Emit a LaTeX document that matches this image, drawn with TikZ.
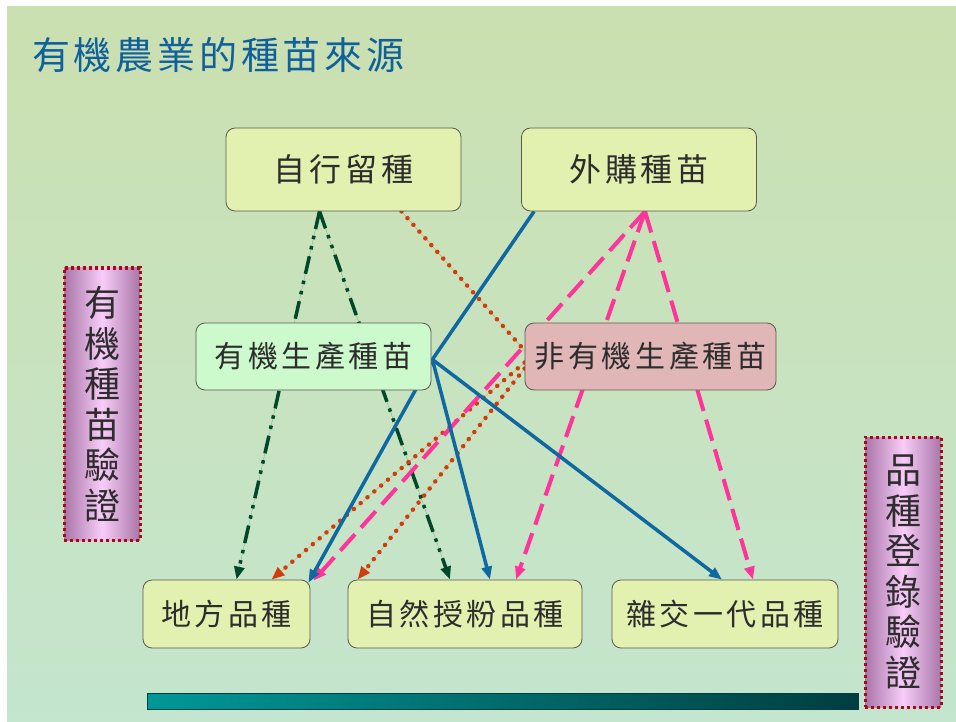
\documentclass[tikz,border=0pt]{standalone}
\usepackage{fontspec}
\newfontfamily\cjk[LetterSpace=12]{Noto Sans CJK TC}
\newfontfamily\cjkttl[LetterSpace=10]{Noto Sans CJK TC}
\newfontfamily\cjkv{Noto Sans CJK TC}
\usetikzlibrary{arrows.meta,calc}
\pgfdeclarelayer{back}
\pgfsetlayers{back,main}
\definecolor{bgtop}{RGB}{203,224,176}
\definecolor{bgbot}{RGB}{196,229,206}
\definecolor{boxyel}{RGB}{226,240,176}
\definecolor{boxgrn}{RGB}{204,250,204}
\definecolor{boxpnk}{RGB}{224,182,182}
\definecolor{boxline}{RGB}{90,90,80}
\definecolor{txt}{RGB}{45,45,45}
\definecolor{ttl}{RGB}{16,96,156}
\definecolor{lnblue}{RGB}{16,104,160}
\definecolor{lnpink}{RGB}{255,51,153}
\definecolor{lngreen}{RGB}{0,72,40}
\definecolor{lnorange}{RGB}{210,60,10}
\definecolor{vedge}{RGB}{168,118,168}
\definecolor{vmid}{RGB}{248,204,248}
\definecolor{vborder}{RGB}{165,10,20}
\definecolor{barl}{RGB}{0,152,152}
\definecolor{barr}{RGB}{0,62,64}
\tikzset{
  box/.style={draw=boxline, line width=0.8pt, rounded corners=9pt, text=txt, inner sep=0pt},
  srcbox/.style={box, fill=boxyel, minimum width=235pt, minimum height=83pt, font=\cjk\fontsize{32}{36}\selectfont},
  midbox/.style={box, minimum height=67pt, font=\cjk\fontsize{30}{34}\selectfont},
  kindbox/.style={box, fill=boxyel, minimum height=68pt, font=\cjk\fontsize{30}{34}\selectfont},
  vbox/.style={draw=vborder, line width=3pt, dash pattern=on 3pt off 3pt, left color=vedge, right color=vedge, middle color=vmid, minimum width=76pt, text=txt, align=center, inner sep=0pt, font=\cjkv\fontsize{36}{40.5}\selectfont},
  arr/.style={-{Triangle[length=13pt,width=10pt]}},
  grn/.style={arr, draw=lngreen, fill=lngreen, line width=3.5pt, dash pattern=on 18pt off 7pt on 3.5pt off 7pt on 3.5pt off 7pt},
  org/.style={arr, draw=lnorange, fill=lnorange, line width=4.5pt, line cap=round, dash pattern=on 0pt off 9pt},
  blu/.style={arr, draw=lnblue, line width=3.5pt},
  pnk/.style={arr, draw=lnpink, line width=4pt, dash pattern=on 22pt off 9pt}
}
\begin{document}
\begin{tikzpicture}[x=1pt,y=-1pt]
\useasboundingbox (0,0) rectangle (956,722);
\begin{pgfonlayer}{back}
\fill[white] (0,0) rectangle (956,722);
\shade[top color=bgtop, bottom color=bgbot] (7,7) rectangle (956,722);
\end{pgfonlayer}
\node[anchor=west, text=ttl, font=\cjkttl\fontsize{38}{42}\selectfont, inner sep=0pt] (title) at (32,55) {有機農業的種苗來源};
\node[srcbox] (self) at (343.5,169.5) {自行留種};
\node[srcbox] (buy) at (639,169.5) {外購種苗};
\node[midbox, fill=boxgrn, minimum width=235pt] (orgseed) at (313.5,356.5) {有機生產種苗};
\node[midbox, fill=boxpnk, minimum width=251pt] (nonorg) at (650.5,356.5) {非有機生產種苗};
\node[kindbox, minimum width=167pt] (local) at (226.5,614) {地方品種};
\node[kindbox, minimum width=234pt] (openp) at (465,614) {自然授粉品種};
\node[kindbox, minimum width=226pt] (hybrid) at (725,614) {雜交一代品種};
\node[vbox, minimum height=272pt] (orgcheck) at (102,404) {有\\機\\種\\苗\\驗\\證};
\node[vbox, minimum height=270pt] (regcheck) at (903,572) {品\\種\\登\\錄\\驗\\證};
\shade[draw=barr, line width=0.8pt, left color=barl, right color=barr] (147,693) rectangle (858,709);
\begin{pgfonlayer}{back}
\draw[grn] ($(self.south)+(-24,0)$) -- ($(local.north)+(10,0)$);
\draw[grn] ($(self.south)+(-24,0)$) -- ($(openp.north)+(-15,0)$);
\draw[org, -] ($(self.south)+(58,0)$) -- ($(nonorg.west)+(0,-6)$);
\draw[org] ($(nonorg.west)+(0,6)$) -- ($(local.north)+(45,0)$);
\draw[org] ($(nonorg.west)+(0,12)$) -- ($(openp.north west)+(10,0)$);
\draw[pnk] ($(buy.south)+(6,0)$) -- ($(local.north east)+(3,1)$);
\draw[pnk] ($(buy.south)+(6,0)$) -- ($(openp.north)+(51,0)$);
\draw[pnk] ($(buy.south)+(6,0)$) -- ($(hybrid.north)+(28,0)$);
\coordinate (hub) at ($(orgseed.east)+(1,3)$);
\draw[blu, -] ($(buy.south west)+(13,0)$) -- (hub);
\draw[blu] (hub) -- ($(local.north east)+(-2,3)$);
\draw[blu] (hub) -- ($(openp.north)+(25,0)$);
\draw[blu] (hub) -- ($(hybrid.north)+(-3,0)$);
\end{pgfonlayer}
\end{tikzpicture}
\end{document}
